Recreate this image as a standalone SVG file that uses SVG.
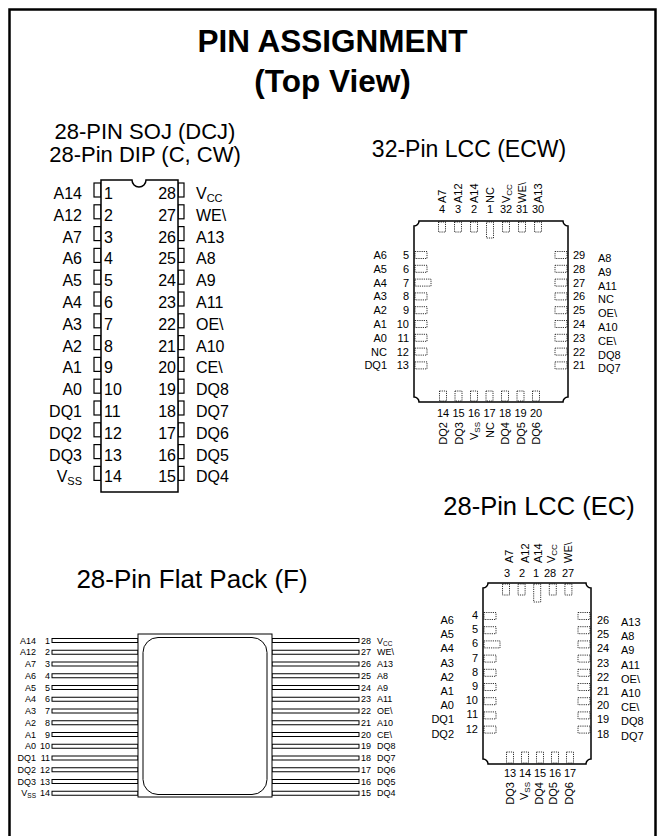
<svg xmlns="http://www.w3.org/2000/svg" width="665" height="836" viewBox="0 0 665 836">
<style>
text{font-family:"Liberation Sans",Arial,sans-serif;fill:#000}
.t1{font-size:31.5px;font-weight:bold;text-anchor:middle}
.h{font-size:22px;text-anchor:middle}
.h2{font-size:25.5px;text-anchor:middle}
.d{font-size:16px}
.s{font-size:11px}
.f{font-size:9px}
.e{text-anchor:end}
.m{text-anchor:middle}
.body{fill:#fff;stroke:#000;stroke-width:1.5}
.tab{fill:#fff;stroke:#000;stroke-width:1.2}
.pad{fill:none;stroke:#000;stroke-width:0.8;stroke-dasharray:1.2 1}
.lead{fill:#fff;stroke:#000;stroke-width:1}
</style>
<rect x="9.5" y="9.5" width="646" height="840" fill="#fff" stroke="#000" stroke-width="2.5"/>
<g id="title">
<text class="t1" x="332.5" y="52">PIN ASSIGNMENT</text>
<text class="t1" x="332.5" y="92">(Top View)</text>
</g>
<g id="dip">
<text class="h" x="145" y="139">28-PIN SOJ (DCJ)</text>
<text class="h" x="145" y="162">28-Pin DIP (C, CW)</text>
<g>
<rect class="tab" x="94" y="183" width="7" height="14"/><rect class="tab" x="94" y="204.8" width="7" height="14"/><rect class="tab" x="94" y="226.6" width="7" height="14"/><rect class="tab" x="94" y="248.4" width="7" height="14"/><rect class="tab" x="94" y="270.2" width="7" height="14"/><rect class="tab" x="94" y="292" width="7" height="14"/><rect class="tab" x="94" y="313.8" width="7" height="14"/><rect class="tab" x="94" y="335.6" width="7" height="14"/><rect class="tab" x="94" y="357.4" width="7" height="14"/><rect class="tab" x="94" y="379.2" width="7" height="14"/><rect class="tab" x="94" y="401" width="7" height="14"/><rect class="tab" x="94" y="422.8" width="7" height="14"/><rect class="tab" x="94" y="444.6" width="7" height="14"/><rect class="tab" x="94" y="466.4" width="7" height="14"/>
<rect class="tab" x="178" y="183" width="6" height="14"/><rect class="tab" x="178" y="204.8" width="6" height="14"/><rect class="tab" x="178" y="226.6" width="6" height="14"/><rect class="tab" x="178" y="248.4" width="6" height="14"/><rect class="tab" x="178" y="270.2" width="6" height="14"/><rect class="tab" x="178" y="292" width="6" height="14"/><rect class="tab" x="178" y="313.8" width="6" height="14"/><rect class="tab" x="178" y="335.6" width="6" height="14"/><rect class="tab" x="178" y="357.4" width="6" height="14"/><rect class="tab" x="178" y="379.2" width="6" height="14"/><rect class="tab" x="178" y="401" width="6" height="14"/><rect class="tab" x="178" y="422.8" width="6" height="14"/><rect class="tab" x="178" y="444.6" width="6" height="14"/><rect class="tab" x="178" y="466.4" width="6" height="14"/>
</g>
<path class="body" d="M101,180 H132 A7,7 0 0 0 146,180 H178 V492 H101 Z"/>
<g class="d">
<text class="e" x="82" y="199">A14</text><text class="e" x="82" y="220.8">A12</text><text class="e" x="82" y="242.6">A7</text><text class="e" x="82" y="264.4">A6</text><text class="e" x="82" y="286.2">A5</text><text class="e" x="82" y="308">A4</text><text class="e" x="82" y="329.8">A3</text><text class="e" x="82" y="351.6">A2</text><text class="e" x="82" y="373.4">A1</text><text class="e" x="82" y="395.2">A0</text><text class="e" x="82" y="417">DQ1</text><text class="e" x="82" y="438.8">DQ2</text><text class="e" x="82" y="460.6">DQ3</text><text class="e" x="82" y="482.4">V<tspan font-size="11" dy="3">SS</tspan></text>
<text x="104" y="199">1</text><text x="104" y="220.8">2</text><text x="104" y="242.6">3</text><text x="104" y="264.4">4</text><text x="104" y="286.2">5</text><text x="104" y="308">6</text><text x="104" y="329.8">7</text><text x="104" y="351.6">8</text><text x="104" y="373.4">9</text><text x="104" y="395.2">10</text><text x="104" y="417">11</text><text x="104" y="438.8">12</text><text x="104" y="460.6">13</text><text x="104" y="482.4">14</text>
<text class="e" x="176" y="199">28</text><text class="e" x="176" y="220.8">27</text><text class="e" x="176" y="242.6">26</text><text class="e" x="176" y="264.4">25</text><text class="e" x="176" y="286.2">24</text><text class="e" x="176" y="308">23</text><text class="e" x="176" y="329.8">22</text><text class="e" x="176" y="351.6">21</text><text class="e" x="176" y="373.4">20</text><text class="e" x="176" y="395.2">19</text><text class="e" x="176" y="417">18</text><text class="e" x="176" y="438.8">17</text><text class="e" x="176" y="460.6">16</text><text class="e" x="176" y="482.4">15</text>
<text x="196" y="199">V<tspan font-size="11" dy="3">CC</tspan></text><text x="196" y="220.8">WE\</text><text x="196" y="242.6">A13</text><text x="196" y="264.4">A8</text><text x="196" y="286.2">A9</text><text x="196" y="308">A11</text><text x="196" y="329.8">OE\</text><text x="196" y="351.6">A10</text><text x="196" y="373.4">CE\</text><text x="196" y="395.2">DQ8</text><text x="196" y="417">DQ7</text><text x="196" y="438.8">DQ6</text><text x="196" y="460.6">DQ5</text><text x="196" y="482.4">DQ4</text>
</g>
</g>
<g id="lcc32">
<text class="h" x="469" y="157" style="font-size:23px">32-Pin LCC (ECW)</text>
<path class="body" d="M419,221 H563 A5,5 0 0 0 568,226 V397 A5,5 0 0 0 563,402 H419 A5,5 0 0 0 414,397 V226 A5,5 0 0 0 419,221 Z"/>
<g>
<rect class="pad" x="438.5" y="222" width="7" height="10"/><rect class="pad" x="454.5" y="222" width="7" height="10"/><rect class="pad" x="470.5" y="222" width="7" height="10"/><rect class="pad" x="486.5" y="222" width="7" height="16"/><rect class="pad" x="502.5" y="222" width="7" height="10"/><rect class="pad" x="518.5" y="222" width="7" height="10"/><rect class="pad" x="534.5" y="222" width="7" height="10"/>
<rect class="pad" x="415" y="251.5" width="12" height="7"/><rect class="pad" x="415" y="265.3" width="12" height="7"/><rect class="pad" x="415" y="279.1" width="16" height="7"/><rect class="pad" x="415" y="292.9" width="12" height="7"/><rect class="pad" x="415" y="306.7" width="12" height="7"/><rect class="pad" x="415" y="320.5" width="12" height="7"/><rect class="pad" x="415" y="334.3" width="12" height="7"/><rect class="pad" x="415" y="348.1" width="12" height="7"/><rect class="pad" x="415" y="361.9" width="12" height="7"/>
<rect class="pad" x="555" y="251.5" width="12" height="7"/><rect class="pad" x="555" y="265.3" width="12" height="7"/><rect class="pad" x="555" y="279.1" width="12" height="7"/><rect class="pad" x="555" y="292.9" width="12" height="7"/><rect class="pad" x="555" y="306.7" width="12" height="7"/><rect class="pad" x="555" y="320.5" width="12" height="7"/><rect class="pad" x="555" y="334.3" width="12" height="7"/><rect class="pad" x="555" y="348.1" width="12" height="7"/><rect class="pad" x="555" y="361.9" width="12" height="7"/>
<rect class="pad" x="439.5" y="391" width="7" height="10"/><rect class="pad" x="455" y="391" width="7" height="10"/><rect class="pad" x="470.5" y="391" width="7" height="10"/><rect class="pad" x="486" y="391" width="7" height="10"/><rect class="pad" x="501.5" y="391" width="7" height="10"/><rect class="pad" x="517" y="391" width="7" height="10"/><rect class="pad" x="532.5" y="391" width="7" height="10"/>
</g>
<g class="s">
<text class="m" x="442" y="213">4</text><text class="m" x="458" y="213">3</text><text class="m" x="474" y="213">2</text><text class="m" x="490" y="213">1</text><text class="m" x="506" y="213">32</text><text class="m" x="522" y="213">31</text><text class="m" x="538" y="213">30</text>
<text transform="translate(446,203) rotate(-90)">A7</text><text transform="translate(462,203) rotate(-90)">A12</text><text transform="translate(478,203) rotate(-90)">A14</text><text transform="translate(494,203) rotate(-90)">NC</text><text transform="translate(510,203) rotate(-90)">V<tspan font-size="8" dy="2">CC</tspan></text><text transform="translate(526,203) rotate(-90)">WE\</text><text transform="translate(542,203) rotate(-90)">A13</text>
<text class="e" x="387" y="259">A6</text><text class="e" x="387" y="272.8">A5</text><text class="e" x="387" y="286.6">A4</text><text class="e" x="387" y="300.4">A3</text><text class="e" x="387" y="314.2">A2</text><text class="e" x="387" y="328">A1</text><text class="e" x="387" y="341.8">A0</text><text class="e" x="387" y="355.6">NC</text><text class="e" x="387" y="369.4">DQ1</text>
<text class="e" x="409" y="259">5</text><text class="e" x="409" y="272.8">6</text><text class="e" x="409" y="286.6">7</text><text class="e" x="409" y="300.4">8</text><text class="e" x="409" y="314.2">9</text><text class="e" x="409" y="328">10</text><text class="e" x="409" y="341.8">11</text><text class="e" x="409" y="355.6">12</text><text class="e" x="409" y="369.4">13</text>
<text x="573" y="259">29</text><text x="573" y="272.8">28</text><text x="573" y="286.6">27</text><text x="573" y="300.4">26</text><text x="573" y="314.2">25</text><text x="573" y="328">24</text><text x="573" y="341.8">23</text><text x="573" y="355.6">22</text><text x="573" y="369.4">21</text>
<text x="598" y="262">A8</text><text x="598" y="275.8">A9</text><text x="598" y="289.6">A11</text><text x="598" y="303.4">NC</text><text x="598" y="317.2">OE\</text><text x="598" y="331">A10</text><text x="598" y="344.8">CE\</text><text x="598" y="358.6">DQ8</text><text x="598" y="372.4">DQ7</text>
<text class="m" x="443" y="417">14</text><text class="m" x="458.5" y="417">15</text><text class="m" x="474" y="417">16</text><text class="m" x="489.5" y="417">17</text><text class="m" x="505" y="417">18</text><text class="m" x="520.5" y="417">19</text><text class="m" x="536" y="417">20</text>
<text class="e" transform="translate(447,422) rotate(-90)">DQ2</text><text class="e" transform="translate(462.5,422) rotate(-90)">DQ3</text><text class="e" transform="translate(478,422) rotate(-90)">V<tspan font-size="8" dy="2">SS</tspan></text><text class="e" transform="translate(493.5,422) rotate(-90)">NC</text><text class="e" transform="translate(509,422) rotate(-90)">DQ4</text><text class="e" transform="translate(524.5,422) rotate(-90)">DQ5</text><text class="e" transform="translate(540,422) rotate(-90)">DQ6</text>
</g>
</g>
<g id="lcc28">
<text class="h2" x="539" y="515">28-Pin LCC (EC)</text>
<path class="body" d="M488,583 H586 A5,5 0 0 0 591,588 V759 A5,5 0 0 0 586,764 H488 A5,5 0 0 0 483,759 V588 A5,5 0 0 0 488,583 Z"/>
<g>
<rect class="pad" x="502.5" y="584" width="7" height="11"/><rect class="pad" x="518.1" y="584" width="7" height="11"/><rect class="pad" x="533.7" y="584" width="7" height="18"/><rect class="pad" x="549.3" y="584" width="7" height="11"/><rect class="pad" x="564.9" y="584" width="7" height="11"/>
<rect class="pad" x="484" y="612.5" width="12" height="7"/><rect class="pad" x="484" y="626.7" width="12" height="7"/><rect class="pad" x="484" y="640.9" width="16" height="7"/><rect class="pad" x="484" y="655.1" width="12" height="7"/><rect class="pad" x="484" y="669.3" width="12" height="7"/><rect class="pad" x="484" y="683.5" width="12" height="7"/><rect class="pad" x="484" y="697.7" width="12" height="7"/><rect class="pad" x="484" y="711.9" width="12" height="7"/><rect class="pad" x="484" y="726.1" width="12" height="7"/>
<rect class="pad" x="578" y="612.5" width="12" height="7"/><rect class="pad" x="578" y="626.7" width="12" height="7"/><rect class="pad" x="578" y="640.9" width="12" height="7"/><rect class="pad" x="578" y="655.1" width="12" height="7"/><rect class="pad" x="578" y="669.3" width="12" height="7"/><rect class="pad" x="578" y="683.5" width="12" height="7"/><rect class="pad" x="578" y="697.7" width="12" height="7"/><rect class="pad" x="578" y="711.9" width="12" height="7"/><rect class="pad" x="578" y="726.1" width="12" height="7"/>
<rect class="pad" x="506.5" y="752" width="7" height="11"/><rect class="pad" x="521.5" y="752" width="7" height="11"/><rect class="pad" x="536.5" y="752" width="7" height="11"/><rect class="pad" x="551.5" y="752" width="7" height="11"/><rect class="pad" x="566.5" y="752" width="7" height="11"/>
</g>
<g class="s">
<text class="m" x="507" y="577">3</text><text class="m" x="522" y="577">2</text><text class="m" x="536" y="577">1</text><text class="m" x="550" y="577">28</text><text class="m" x="568" y="577">27</text>
<text transform="translate(513,563) rotate(-90)">A7</text><text transform="translate(529,563) rotate(-90)">A12</text><text transform="translate(542,563) rotate(-90)">A14</text><text transform="translate(555,563) rotate(-90)">V<tspan font-size="8" dy="2">CC</tspan></text><text transform="translate(572,563) rotate(-90)">WE\</text>
<text class="e" x="454" y="624">A6</text><text class="e" x="454" y="638.2">A5</text><text class="e" x="454" y="652.4">A4</text><text class="e" x="454" y="666.6">A3</text><text class="e" x="454" y="680.8">A2</text><text class="e" x="454" y="695">A1</text><text class="e" x="454" y="709.2">A0</text><text class="e" x="454" y="723.4">DQ1</text><text class="e" x="454" y="737.6">DQ2</text>
<text class="e" x="478" y="619">4</text><text class="e" x="478" y="633.2">5</text><text class="e" x="478" y="647.4">6</text><text class="e" x="478" y="661.6">7</text><text class="e" x="478" y="675.8">8</text><text class="e" x="478" y="690">9</text><text class="e" x="478" y="704.2">10</text><text class="e" x="478" y="718.4">11</text><text class="e" x="478" y="732.6">12</text>
<text x="597" y="624">26</text><text x="597" y="638.2">25</text><text x="597" y="652.4">24</text><text x="597" y="666.6">23</text><text x="597" y="680.8">22</text><text x="597" y="695">21</text><text x="597" y="709.2">20</text><text x="597" y="723.4">19</text><text x="597" y="737.6">18</text>
<text x="621" y="626">A13</text><text x="621" y="640.2">A8</text><text x="621" y="654.4">A9</text><text x="621" y="668.6">A11</text><text x="621" y="682.8">OE\</text><text x="621" y="697">A10</text><text x="621" y="711.2">CE\</text><text x="621" y="725.4">DQ8</text><text x="621" y="739.6">DQ7</text>
<text class="m" x="510" y="777">13</text><text class="m" x="525" y="777">14</text><text class="m" x="540" y="777">15</text><text class="m" x="555" y="777">16</text><text class="m" x="570" y="777">17</text>
<text class="e" transform="translate(514,782) rotate(-90)">DQ3</text><text class="e" transform="translate(528,782) rotate(-90)">V<tspan font-size="8" dy="2">SS</tspan></text><text class="e" transform="translate(543,782) rotate(-90)">DQ4</text><text class="e" transform="translate(557,782) rotate(-90)">DQ5</text><text class="e" transform="translate(573,782) rotate(-90)">DQ6</text>
</g>
</g>
<g id="flatpack">
<text class="h2" x="192" y="588" style="font-size:26px">28-Pin Flat Pack (F)</text>
<g>
<rect class="lead" x="52" y="638.5" width="86" height="4"/><rect class="lead" x="52" y="650.25" width="86" height="4"/><rect class="lead" x="52" y="662" width="86" height="4"/><rect class="lead" x="52" y="673.75" width="86" height="4"/><rect class="lead" x="52" y="685.5" width="86" height="4"/><rect class="lead" x="52" y="697.25" width="86" height="4"/><rect class="lead" x="52" y="709" width="86" height="4"/><rect class="lead" x="52" y="720.75" width="86" height="4"/><rect class="lead" x="52" y="732.5" width="86" height="4"/><rect class="lead" x="52" y="744.25" width="86" height="4"/><rect class="lead" x="52" y="756" width="86" height="4"/><rect class="lead" x="52" y="767.75" width="86" height="4"/><rect class="lead" x="52" y="779.5" width="86" height="4"/><rect class="lead" x="52" y="791.25" width="86" height="4"/>
<rect class="lead" x="272" y="638.5" width="87" height="4"/><rect class="lead" x="272" y="650.25" width="87" height="4"/><rect class="lead" x="272" y="662" width="87" height="4"/><rect class="lead" x="272" y="673.75" width="87" height="4"/><rect class="lead" x="272" y="685.5" width="87" height="4"/><rect class="lead" x="272" y="697.25" width="87" height="4"/><rect class="lead" x="272" y="709" width="87" height="4"/><rect class="lead" x="272" y="720.75" width="87" height="4"/><rect class="lead" x="272" y="732.5" width="87" height="4"/><rect class="lead" x="272" y="744.25" width="87" height="4"/><rect class="lead" x="272" y="756" width="87" height="4"/><rect class="lead" x="272" y="767.75" width="87" height="4"/><rect class="lead" x="272" y="779.5" width="87" height="4"/><rect class="lead" x="272" y="791.25" width="87" height="4"/>
</g>
<rect x="138" y="634" width="134" height="163" fill="#fff" stroke="#000" stroke-width="1"/>
<rect x="143" y="637.5" width="124" height="157" rx="15" fill="#fff" stroke="#000" stroke-width="1"/>
<g class="f">
<text class="e" x="36" y="643.5">A14</text><text class="e" x="36" y="655.25">A12</text><text class="e" x="36" y="667">A7</text><text class="e" x="36" y="678.75">A6</text><text class="e" x="36" y="690.5">A5</text><text class="e" x="36" y="702.25">A4</text><text class="e" x="36" y="714">A3</text><text class="e" x="36" y="725.75">A2</text><text class="e" x="36" y="737.5">A1</text><text class="e" x="36" y="749.25">A0</text><text class="e" x="36" y="761">DQ1</text><text class="e" x="36" y="772.75">DQ2</text><text class="e" x="36" y="784.5">DQ3</text><text class="e" x="36" y="796.25">V<tspan font-size="6.5" dy="2">SS</tspan></text>
<text class="e" x="50" y="643.5">1</text><text class="e" x="50" y="655.25">2</text><text class="e" x="50" y="667">3</text><text class="e" x="50" y="678.75">4</text><text class="e" x="50" y="690.5">5</text><text class="e" x="50" y="702.25">6</text><text class="e" x="50" y="714">7</text><text class="e" x="50" y="725.75">8</text><text class="e" x="50" y="737.5">9</text><text class="e" x="50" y="749.25">10</text><text class="e" x="50" y="761">11</text><text class="e" x="50" y="772.75">12</text><text class="e" x="50" y="784.5">13</text><text class="e" x="50" y="796.25">14</text>
<text x="361" y="643.5">28</text><text x="361" y="655.25">27</text><text x="361" y="667">26</text><text x="361" y="678.75">25</text><text x="361" y="690.5">24</text><text x="361" y="702.25">23</text><text x="361" y="714">22</text><text x="361" y="725.75">21</text><text x="361" y="737.5">20</text><text x="361" y="749.25">19</text><text x="361" y="761">18</text><text x="361" y="772.75">17</text><text x="361" y="784.5">16</text><text x="361" y="796.25">15</text>
<text x="377" y="643.5">V<tspan font-size="6.5" dy="2">CC</tspan></text><text x="377" y="655.25">WE\</text><text x="377" y="667">A13</text><text x="377" y="678.75">A8</text><text x="377" y="690.5">A9</text><text x="377" y="702.25">A11</text><text x="377" y="714">OE\</text><text x="377" y="725.75">A10</text><text x="377" y="737.5">CE\</text><text x="377" y="749.25">DQ8</text><text x="377" y="761">DQ7</text><text x="377" y="772.75">DQ6</text><text x="377" y="784.5">DQ5</text><text x="377" y="796.25">DQ4</text>
</g>
</g>
</svg>
